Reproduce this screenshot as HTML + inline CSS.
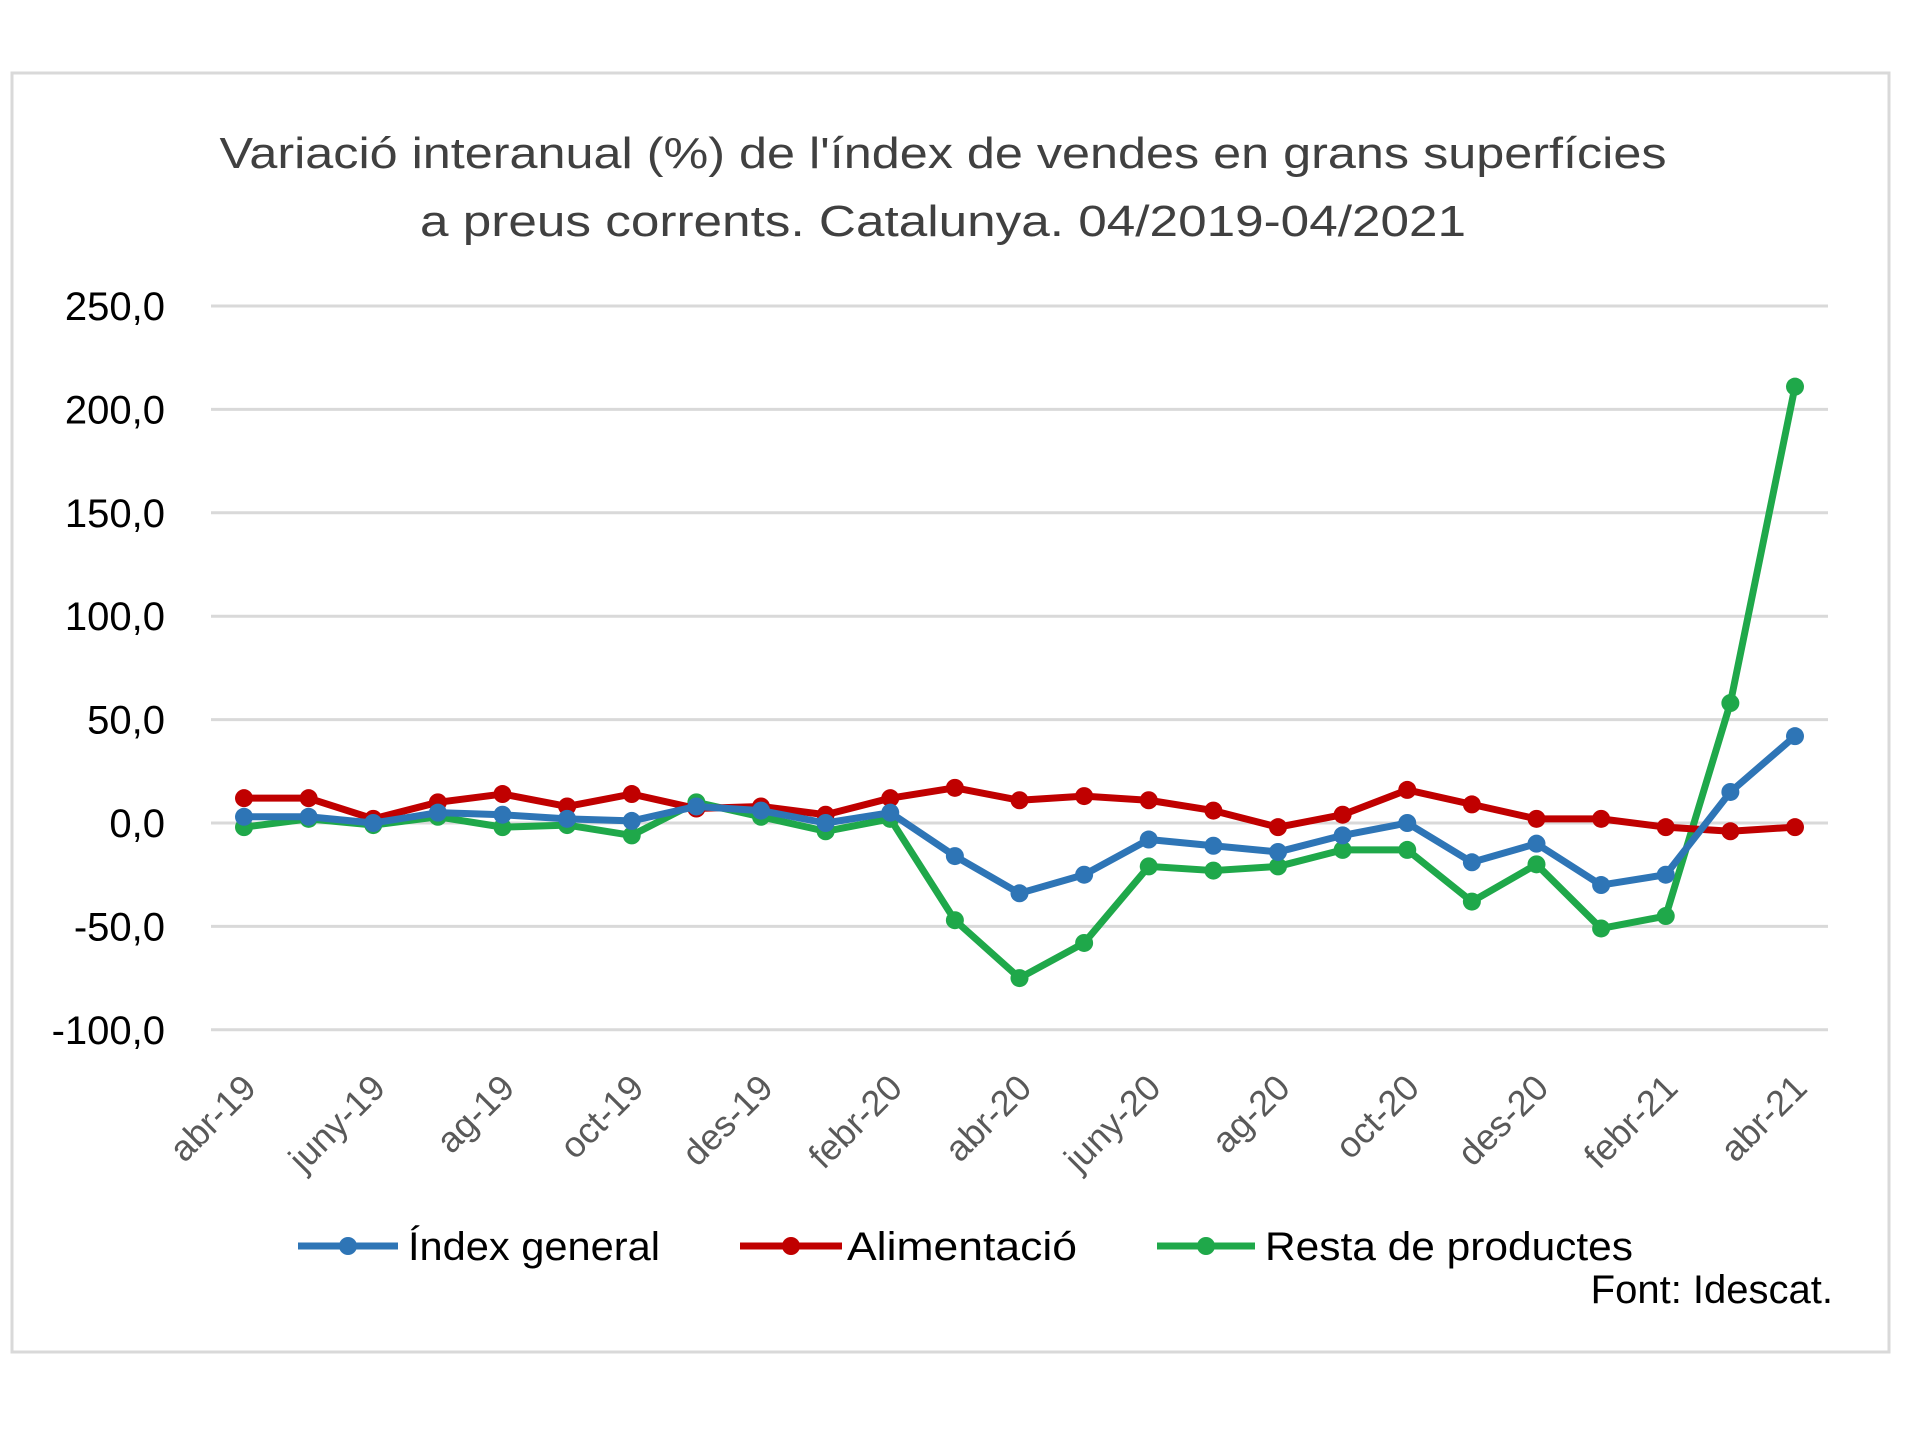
<!DOCTYPE html>
<html><head><meta charset="utf-8"><style>
html,body{margin:0;padding:0;background:#fff;}
svg{display:block;}
</style></head><body>
<svg id="chart" width="1920" height="1440" viewBox="0 0 1920 1440" xmlns="http://www.w3.org/2000/svg">
<rect x="12" y="73" width="1877" height="1279" fill="#fff" stroke="#d9d9d9" stroke-width="3"/>
<text x="943" y="168" text-anchor="middle" font-family="Liberation Sans, sans-serif" font-size="44" fill="#404040" textLength="1447" lengthAdjust="spacingAndGlyphs">Variació interanual (%) de l'índex de vendes en grans superfícies</text>
<text x="943" y="236" text-anchor="middle" font-family="Liberation Sans, sans-serif" font-size="44" fill="#404040" textLength="1046" lengthAdjust="spacingAndGlyphs">a preus corrents. Catalunya.  04/2019-04/2021</text>
<g id="grid"></g><g id="yticks"></g><g id="xticks"></g><g id="series"></g>
<g>
<line x1="298" y1="1246" x2="398" y2="1246" stroke="#2e75b6" stroke-width="7"/><circle cx="348" cy="1246" r="9" fill="#2e75b6"/>
<text x="408" y="1260" font-family="Liberation Sans, sans-serif" font-size="40" fill="#000" textLength="252" lengthAdjust="spacingAndGlyphs">Índex general</text>
<line x1="740" y1="1246" x2="842" y2="1246" stroke="#c00000" stroke-width="7"/><circle cx="791" cy="1246" r="9" fill="#c00000"/>
<text x="847" y="1260" font-family="Liberation Sans, sans-serif" font-size="40" fill="#000" textLength="230" lengthAdjust="spacingAndGlyphs">Alimentació</text>
<line x1="1157" y1="1246" x2="1255" y2="1246" stroke="#1fa84a" stroke-width="7"/><circle cx="1206" cy="1246" r="9" fill="#1fa84a"/>
<text x="1265" y="1260" font-family="Liberation Sans, sans-serif" font-size="40" fill="#000" textLength="368" lengthAdjust="spacingAndGlyphs">Resta de productes</text>
</g>
<text x="1833" y="1303" text-anchor="end" font-family="Liberation Sans, sans-serif" font-size="40" fill="#000">Font: Idescat.</text>
</svg>
<script>
const categories=["abr-19","maig-19","juny-19","jul-19","ag-19","set-19","oct-19","nov-19","des-19","gen-20","febr-20","març-20","abr-20","maig-20","juny-20","jul-20","ag-20","set-20","oct-20","nov-20","des-20","gen-21","febr-21","març-21","abr-21"];
const indexGeneral=[3,3,0,5,4,2,1,8,6,0,5,-16,-34,-25,-8,-11,-14,-6,0,-19,-10,-30,-25,15,42];
const alimentacio=[12,12,2,10,14,8,14,7,8,4,12,17,11,13,11,6,-2,4,16,9,2,2,-2,-4,-2];
const restaProductes=[-2,2,-1,3,-2,-1,-6,10,3,-4,2,-47,-75,-58,-21,-23,-21,-13,-13,-38,-20,-51,-45,58,211];
const yTicks=[250,200,150,100,50,0,-50,-100];
const yTickLabels=["250,0","200,0","150,0","100,0","50,0","0,0","-50,0","-100,0"];
const NS="http://www.w3.org/2000/svg";
const x0=244,x1=1795,yZero=823,yPer=103.4/50;
function xs(i){return x0+(x1-x0)*i/(categories.length-1);}
function ys(v){return yZero-v*yPer;}
function mk(tag,attrs,parent){const e=document.createElementNS(NS,tag);for(const k in attrs)e.setAttribute(k,attrs[k]);parent.appendChild(e);return e;}
const grid=document.getElementById('grid'),yt=document.getElementById('yticks'),xt=document.getElementById('xticks'),ser=document.getElementById('series');
yTicks.forEach((v,i)=>{
  const l=mk('line',{x1:211,x2:1828,y1:ys(v),y2:ys(v),stroke:'#d9d9d9','stroke-width':3},grid);
  
  
  const t=mk('text',{x:165,y:ys(v)+14,'text-anchor':'end','font-family':'Liberation Sans, sans-serif','font-size':40,fill:'#000'},yt);
  t.textContent=yTickLabels[i];
  
  
});
categories.forEach((c,i)=>{
  if(i%2!==0)return;
  const ax=xs(i)+14,ay=1090;
  const t=mk('text',{x:ax,y:ay,'text-anchor':'end','font-family':'Liberation Sans, sans-serif','font-size':36,fill:'#595959',transform:`rotate(-45 ${ax} ${ay})`},xt);
  t.textContent=c;
  
  
});
function drawSeries(vals,color,name){
  const g=mk('g',{},ser);
  
  
  const pts=vals.map((v,i)=>xs(i)+','+ys(v)).join(' ');
  const pl=mk('polyline',{points:pts,fill:'none',stroke:color,'stroke-width':7,'stroke-linejoin':'round'},g);
  
  
  vals.forEach((v,i)=>{
    const c=mk('circle',{cx:xs(i),cy:ys(v),r:9,fill:color},g);
    
    
  });
}
drawSeries(restaProductes,'#1fa84a','series-resta-de-productes');
drawSeries(alimentacio,'#c00000','series-alimentacio');
drawSeries(indexGeneral,'#2e75b6','series-index-general');
</script>
</body></html>
